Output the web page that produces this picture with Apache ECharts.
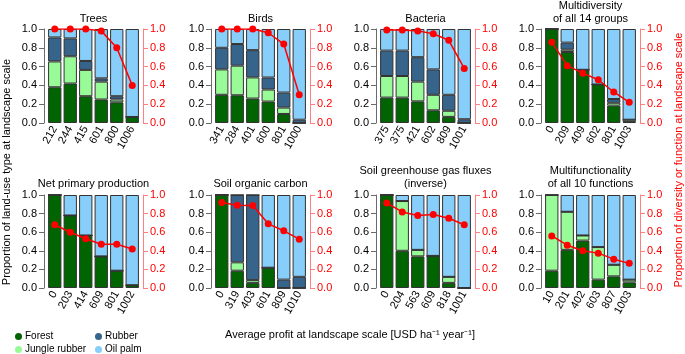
<!DOCTYPE html>
<html>
<head>
<meta charset="utf-8">
<script src="https://cdn.jsdelivr.net/npm/echarts@6/dist/echarts.min.js"></script>
<style>
  html, body { margin: 0; padding: 0; background: #fff; }
  #landscape-chart { width: 685px; height: 354px; }
</style>
</head>
<body>
<div id="landscape-chart"></div>
<script>
    // panel titles, in reading order
    var panelTitles = [
        'Trees', 'Birds', 'Bacteria', 'Multidiversity\nof all 14 groups',
        'Net primary production', 'Soil organic carbon',
        'Soil greenhouse gas fluxes\n(inverse)', 'Multifunctionality\nof all 10 functions'
    ];

    // average profit labels under each bar (USD ha-1 year-1)
    var profitLabels = [
        ['212', '244', '415', '601', '800', '1006'],
        ['341', '284', '401', '600', '801', '1000'],
        ['375', '375', '421', '602', '809', '1001'],
        ['0', '209', '409', '602', '801', '1003'],
        ['0', '203', '414', '609', '801', '1002'],
        ['0', '319', '403', '601', '809', '1010'],
        ['0', '204', '563', '609', '818', '1001'],
        ['10', '201', '402', '603', '807', '1003']
    ];

    // proportion of land-use types
    var forestShare = [
        [0.38, 0.42, 0.285, 0.25, 0.22, 0.064],
        [0.30, 0.295, 0.26, 0.228, 0.096, 0],
        [0.27, 0.27, 0.23, 0.135, 0.065, 0],
        [1.0, 0.755, 0.566, 0.41, 0.185, 0.01],
        [1.0, 0.78, 0.565, 0.34, 0.186, 0.03],
        [1.0, 0.186, 0.055, 0.218, 0, 0],
        [1.0, 0.40, 0.34, 0.345, 0.055, 0],
        [0.186, 0.41, 0.51, 0.09, 0.125, 0.06]
    ];
    var jungleRubberShare = [
        [0.275, 0.29, 0.28, 0.19, 0.03, 0],
        [0.27, 0.315, 0.225, 0.128, 0.068, 0],
        [0.23, 0.23, 0.21, 0.165, 0.065, 0],
        [0, 0.025, 0, 0, 0.03, 0.025],
        [0, 0, 0, 0, 0, 0],
        [0, 0.09, 0.03, 0, 0, 0],
        [0, 0.535, 0.07, 0, 0.065, 0],
        [0.814, 0.41, 0.055, 0.35, 0.125, 0.03]
    ];
    var rubberShare = [
        [0.255, 0.19, 0.095, 0.035, 0.035, 0],
        [0.23, 0.23, 0.29, 0.128, 0.16, 0.035],
        [0.27, 0.27, 0.26, 0.27, 0.17, 0.04],
        [0, 0.075, 0, 0, 0.04, 0],
        [0, 0, 0, 0, 0, 0],
        [0, 0.724, 0.915, 0, 0.09, 0.12],
        [0, 0, 0, 0, 0, 0],
        [0, 0, 0, 0, 0, 0]
    ];
    var oilPalmShare = [
        [0.09, 0.10, 0.34, 0.525, 0.715, 0.936],
        [0.20, 0.16, 0.225, 0.516, 0.676, 0.965],
        [0.23, 0.23, 0.30, 0.43, 0.70, 0.96],
        [0, 0.145, 0.434, 0.59, 0.745, 0.965],
        [0, 0.22, 0.435, 0.66, 0.814, 0.97],
        [0, 0, 0, 0.782, 0.91, 0.88],
        [0, 0.065, 0.59, 0.655, 0.88, 1.0],
        [0, 0.18, 0.435, 0.56, 0.75, 0.91]
    ];

    // proportion of diversity or function (red line)
    var diversityShare = [
        [1.0, 1.0, 1.0, 0.98, 0.80, 0.40],
        [1.0, 1.0, 1.0, 0.96, 0.84, 0.30],
        [0.99, 0.99, 0.98, 0.95, 0.88, 0.58],
        [0.86, 0.61, 0.53, 0.46, 0.33, 0.22],
        [0.68, 0.60, 0.53, 0.47, 0.47, 0.42],
        [0.92, 0.89, 0.886, 0.69, 0.615, 0.525],
        [0.914, 0.818, 0.78, 0.79, 0.75, 0.68],
        [0.56, 0.46, 0.40, 0.375, 0.31, 0.265]
    ];

    var landUseNames = ['Forest', 'Jungle rubber', 'Rubber', 'Oil palm'];
    var landUseColors = ['#006400', '#98FB98', '#36648B', '#87CEFA'];
    var landUseData = [forestShare, jungleRubberShare, rubberShare, oilPalmShare];

    var font = 'Liberation Sans, Arial, Helvetica, sans-serif';
    var panelLeft = [47, 214, 379, 544];
    var panelWidth = 93;
    var rowTop = [29, 195];
    var rowHeight = [94, 93];

    var grid = [], xAxis = [], yAxis = [], series = [], title = [];

    for (var i = 0; i < 8; i++) {
        var col = i % 4, row = Math.floor(i / 4);
        grid.push({
            left: panelLeft[col], top: rowTop[row],
            width: panelWidth, height: rowHeight[row]
        });
        title.push({
            text: panelTitles[i],
            left: panelLeft[col] + panelWidth / 2,
            textAlign: 'center',
            bottom: row === 0 ? 329 : 164,
            padding: 0,
            textStyle: {
                fontFamily: font, fontSize: 11, fontWeight: 'normal',
                color: '#000', lineHeight: 13
            }
        });
        xAxis.push({
            type: 'category',
            gridIndex: i,
            data: profitLabels[i],
            axisLine: {show: false},
            axisTick: {show: false},
            axisLabel: {
                rotate: 60, margin: 4, interval: 0,
                fontFamily: font, fontSize: 11, color: '#000'
            }
        });
        // left axis: land-use proportion
        yAxis.push({
            type: 'value', gridIndex: i, position: 'left', offset: 3,
            min: 0, max: 1, interval: 0.2,
            splitLine: {show: false},
            axisLine: {show: true, lineStyle: {color: '#6b6b6b', width: 1}},
            axisTick: {show: true, length: 5, lineStyle: {color: '#6b6b6b'}},
            axisLabel: {
                margin: 7, fontFamily: font, fontSize: 11, color: '#000',
                formatter: function (v) { return v.toFixed(1); }
            }
        });
        // right axis: diversity / function proportion
        yAxis.push({
            type: 'value', gridIndex: i, position: 'right', offset: 3,
            min: 0, max: 1, interval: 0.2,
            splitLine: {show: false},
            axisLine: {show: true, lineStyle: {color: '#FF8080', width: 1}},
            axisTick: {show: true, length: 5, lineStyle: {color: '#FF8080'}},
            axisLabel: {
                margin: 7, fontFamily: font, fontSize: 11, color: '#FF0000',
                formatter: function (v) { return v.toFixed(1); }
            }
        });

        for (var k = 0; k < 4; k++) {
            series.push({
                name: landUseNames[k],
                type: 'bar',
                stack: 'panel' + i,
                xAxisIndex: i,
                yAxisIndex: 2 * i,
                barCategoryGap: '14%',
                data: landUseData[k][i],
                itemStyle: {color: landUseColors[k], borderColor: '#333', borderWidth: 1},
                emphasis: {disabled: true},
                silent: true
            });
        }
        series.push({
            name: 'diversity',
            type: 'line',
            xAxisIndex: i,
            yAxisIndex: 2 * i + 1,
            data: diversityShare[i],
            symbol: 'circle',
            symbolSize: 7,
            lineStyle: {color: '#FF0000', width: 1.5},
            itemStyle: {color: '#FF0000'},
            z: 5,
            silent: true
        });
    }

    var legendBase = {
        orient: 'vertical',
        top: 330,
        height: 40,
        padding: 0,
        icon: 'circle',
        itemWidth: 7,
        itemHeight: 7,
        itemGap: 0,
        selectedMode: false,
        itemStyle: {borderWidth: 0},
        textStyle: {fontFamily: font, fontSize: 10, lineHeight: 13, color: '#000', padding: [0, 0, 0, -2]}
    };

    var chart = echarts.init(document.getElementById('landscape-chart'));
    chart.setOption({
        animation: false,
        backgroundColor: '#fff',
        title: title,
        grid: grid,
        xAxis: xAxis,
        yAxis: yAxis,
        series: series,
        legend: [
            Object.assign({}, legendBase, {left: 15, data: ['Forest', 'Jungle rubber']}),
            Object.assign({}, legendBase, {left: 95, data: ['Rubber', 'Oil palm']})
        ],
        graphic: [
            {
                type: 'text', x: 7, y: 172, rotation: Math.PI / 2,
                style: {
                    text: 'Proportion of land-use type at landscape scale',
                    x: 0, y: 0, align: 'center', verticalAlign: 'middle',
                    font: '11px ' + font, fill: '#000'
                }
            },
            {
                type: 'text', x: 679, y: 160, rotation: Math.PI / 2,
                style: {
                    text: 'Proportion of diversity or function at landscape scale',
                    x: 0, y: 0, align: 'center', verticalAlign: 'middle',
                    font: '11px ' + font, fill: '#FF0000'
                }
            },
            {
                type: 'text', x: 350, y: 335,
                style: {
                    text: 'Average profit at landscape scale [USD ha\u207B\u00B9 year\u207B\u00B9]',
                    x: 0, y: 0, align: 'center', verticalAlign: 'middle',
                    font: '11px ' + font, fill: '#000'
                }
            }
        ]
    });
    window.addEventListener('resize', function () {
        chart.resize();
    });
</script>
</body>
</html>
